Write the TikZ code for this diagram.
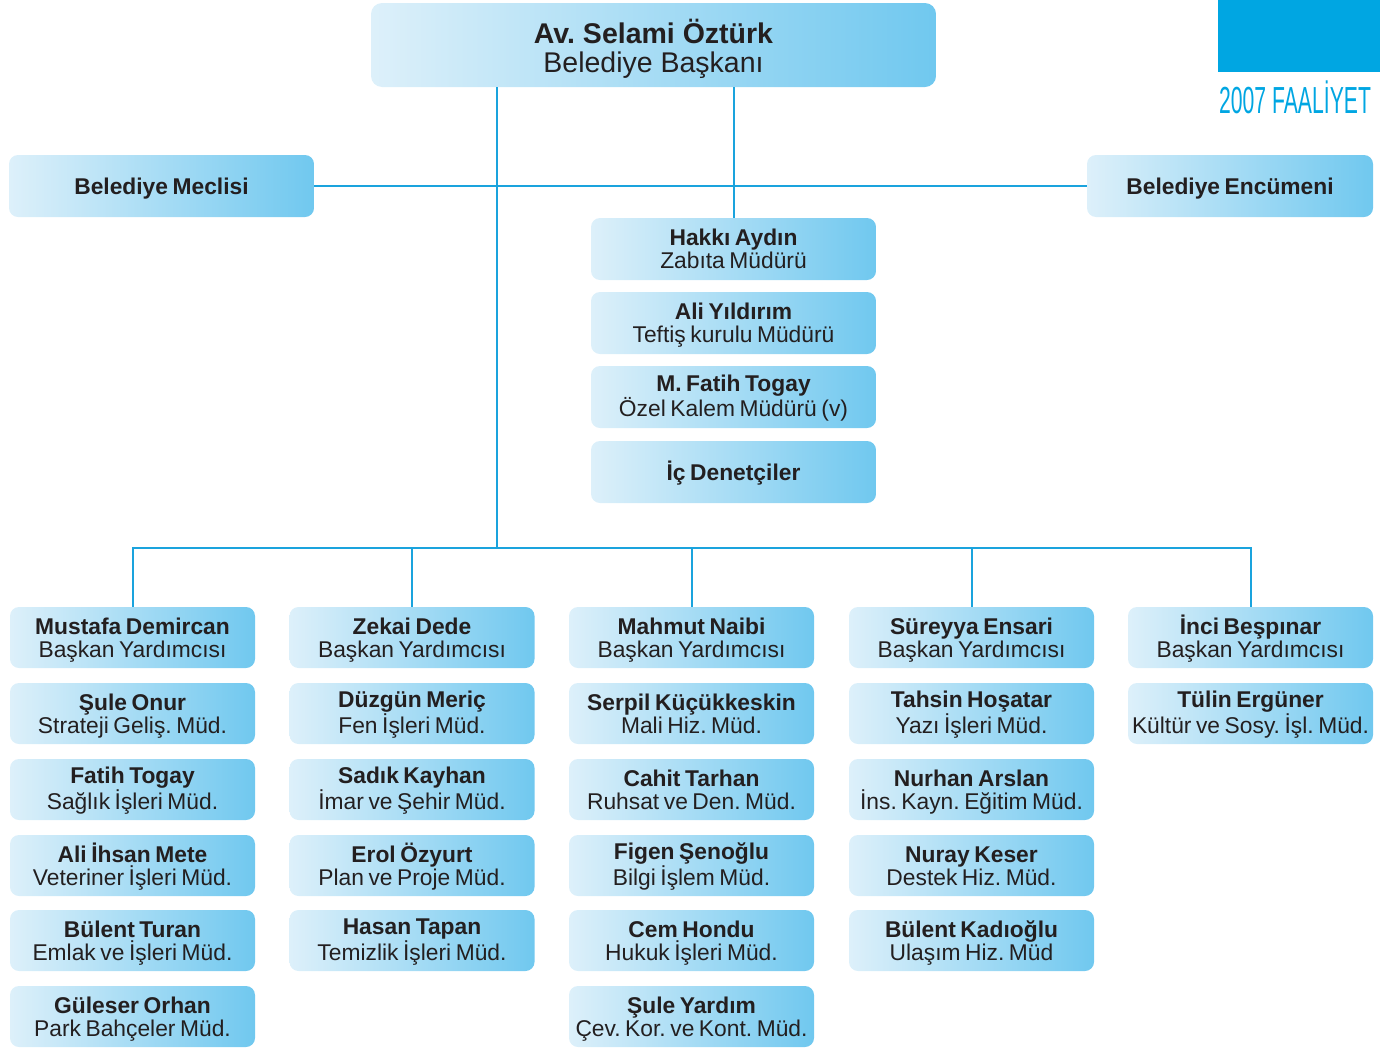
\documentclass[tikz,border=0pt]{standalone}
\usepackage{fontspec}
\setmainfont{Liberation Sans}
\frenchspacing
\newcommand\cardfont{\fontsize{22.8}{23}\selectfont\spaceskip=0.2em\relax}
\definecolor{boxL}{HTML}{DDF0FA}
\definecolor{boxR}{HTML}{70C8EF}
\definecolor{wire}{HTML}{1AA3DD}
\definecolor{ink}{HTML}{231F20}
\definecolor{brand}{HTML}{00A6E2}
\tikzset{
  card/.style={rounded corners=9pt, left color=boxL, right color=boxR, text=ink,
    minimum width=245pt, minimum height=61pt, inner sep=0pt, align=center,
    font=\cardfont, text height=45pt, text depth=6pt},
  onecard/.style={card, text height=21pt, text depth=5pt},
  midcard/.style={card, minimum width=285pt, minimum height=62pt},
  midone/.style={midcard, text height=21pt, text depth=5pt},
  sidecard/.style={onecard, minimum height=62pt},
  topcard/.style={card, minimum width=565pt, minimum height=84pt, rounded corners=11pt,
    font=\fontsize{28.5}{29}\selectfont, text height=60pt, text depth=6pt},
  wireline/.style={draw=wire, line width=2pt},
}
\begin{document}
\begin{tikzpicture}[x=1pt,y=-1pt]
\useasboundingbox (0,0) rectangle (1380,1047);
% brand
\node[fill=brand, minimum width=162pt, minimum height=72pt, inner sep=0pt, anchor=north west] (brandbox) at (1218,0) {};
\node[text=brand, font=\fontsize{37.7}{40}\selectfont, xscale=0.5616, inner sep=0pt, anchor=base west] (brandtxt) at (1219,113) {2007 FAALİYET};
% top
\node[topcard] (top) at (653.5,45) {\textbf{Av. Selami Öztürk}\\Belediye Başkanı};
\node[sidecard, minimum width=305pt] (meclis) at (161.5,186) {\textbf{Belediye Meclisi}};
\node[sidecard, minimum width=286pt] (encumen) at (1230,186) {\textbf{Belediye Encümeni}};
% middle column
\node[midcard] (hakki) at (733.5,249) {\textbf{Hakkı Aydın}\\Zabıta Müdürü};
\node[midcard] (ali) at (733.5,323) {\textbf{Ali Yıldırım}\\Teftiş kurulu Müdürü};
\node[midcard] (fatih) at (733.5,397) {\textbf{M. Fatih Togay}\\Özel Kalem Müdürü (v)};
\node[midone] (ic) at (733.5,472) {\textbf{İç Denetçiler}};
% grid column 1
\node[card] (a1) at (132.5,637.5) {\textbf{Mustafa Demircan}\\Başkan Yardımcısı};
\node[card] (a2) at (132.5,713.5) {\textbf{Şule Onur}\\Strateji Geliş. Müd.};
\node[card] (a3) at (132.5,789.5) {\textbf{Fatih Togay}\\Sağlık İşleri Müd.};
\node[card] (a4) at (132.5,865.5) {\textbf{Ali İhsan Mete}\\Veteriner İşleri Müd.};
\node[card] (a5) at (132.5,940.5) {\textbf{Bülent Turan}\\Emlak ve İşleri Müd.};
\node[card] (a6) at (132.5,1016.5) {\textbf{Güleser Orhan}\\Park Bahçeler Müd.};
% column 2
\node[card] (b1) at (412,637.5) {\textbf{Zekai Dede}\\Başkan Yardımcısı};
\node[card] (b2) at (412,713.5) {\textbf{Düzgün Meriç}\\Fen İşleri Müd.};
\node[card] (b3) at (412,789.5) {\textbf{Sadık Kayhan}\\İmar ve Şehir Müd.};
\node[card] (b4) at (412,865.5) {\textbf{Erol Özyurt}\\Plan ve Proje Müd.};
\node[card] (b5) at (412,940.5) {\textbf{Hasan Tapan}\\Temizlik İşleri Müd.};
% column 3
\node[card] (c1) at (691.5,637.5) {\textbf{Mahmut Naibi}\\Başkan Yardımcısı};
\node[card] (c2) at (691.5,713.5) {\textbf{Serpil Küçükkeskin}\\Mali Hiz. Müd.};
\node[card] (c3) at (691.5,789.5) {\textbf{Cahit Tarhan}\\Ruhsat ve Den. Müd.};
\node[card] (c4) at (691.5,865.5) {\textbf{Figen Şenoğlu}\\Bilgi İşlem Müd.};
\node[card] (c5) at (691.5,940.5) {\textbf{Cem Hondu}\\Hukuk İşleri Müd.};
\node[card] (c6) at (691.5,1016.5) {\textbf{Şule Yardım}\\Çev. Kor. ve Kont. Müd.};
% column 4
\node[card] (d1) at (971.5,637.5) {\textbf{Süreyya Ensari}\\Başkan Yardımcısı};
\node[card] (d2) at (971.5,713.5) {\textbf{Tahsin Hoşatar}\\Yazı İşleri Müd.};
\node[card] (d3) at (971.5,789.5) {\textbf{Nurhan Arslan}\\İns. Kayn. Eğitim Müd.};
\node[card] (d4) at (971.5,865.5) {\textbf{Nuray Keser}\\Destek Hiz. Müd.};
\node[card] (d5) at (971.5,940.5) {\textbf{Bülent Kadıoğlu}\\Ulaşım Hiz. Müd};
% column 5
\node[card] (e1) at (1250.5,637.5) {\textbf{İnci Beşpınar}\\Başkan Yardımcısı};
\node[card] (e2) at (1250.5,713.5) {\textbf{Tülin Ergüner}\\Kültür ve Sosy. İşl. Müd.};
% connectors
\coordinate (hub) at (497,548);
\coordinate (stem) at (497,87);
\draw[wireline] (top.south -| stem) -- (hub);
\draw[wireline] (top.south -| hakki) -- (hakki.north);
\draw[wireline] (meclis.east) -- (encumen.west);
\draw[wireline] (a1.north) -- (a1.north |- hub) -- (e1.north |- hub) -- (e1.north);
\draw[wireline] (b1.north |- hub) -- (b1.north);
\draw[wireline] (c1.north |- hub) -- (c1.north);
\draw[wireline] (d1.north |- hub) -- (d1.north);
\end{tikzpicture}
\end{document}
